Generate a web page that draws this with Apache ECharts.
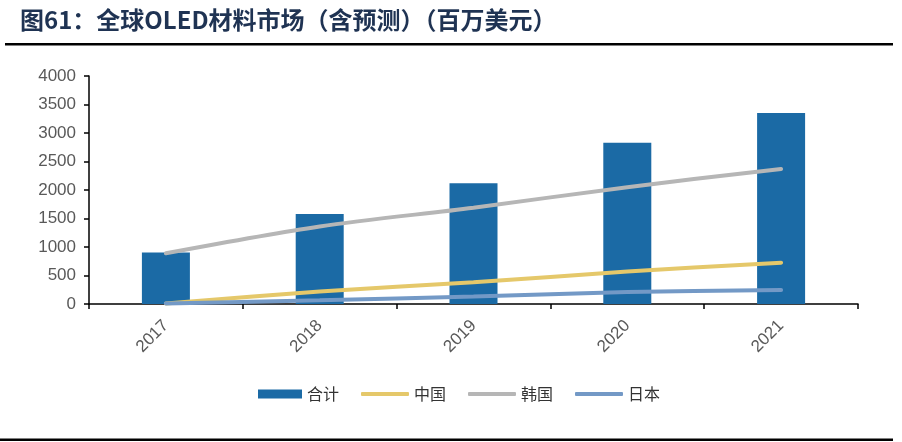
<!DOCTYPE html>
<html>
<head>
<meta charset="utf-8">
<script src="https://cdn.jsdelivr.net/npm/echarts@6/dist/echarts.min.js"></script>
<style>
html,body{margin:0;padding:0;background:#fff;}
#chart{width:902px;height:442px;}
</style>
</head>
<body>
<div id="chart"></div>
<script>
const titleText = '图61：全球OLED材料市场（含预测）（百万美元）';
const categories = ['2017', '2018', '2019', '2020', '2021'];
const totalValues = [905, 1580, 2120, 2830, 3350];
const chinaValues = [10, 220, 380, 570, 725];
const koreaValues = [890, 1360, 1690, 2050, 2370];
const japanValues = [10, 65, 130, 210, 245];
const seriesNames = ['合计', '中国', '韩国', '日本'];

const chart = echarts.init(document.getElementById('chart'), null, {renderer: 'canvas'});
const labelColor = '#595959';
const numFont = '"Liberation Sans", Arial, sans-serif';
const cjkFont = '"Noto Sans CJK SC", sans-serif';
const lineSeries = (name, data, color) => ({
  name: name,
  type: 'line',
  data: data,
  smooth: 0.3,
  symbol: 'none',
  lineStyle: {color: color, width: 4, cap: 'round'},
  itemStyle: {color: color},
  z: 3
});
const legendText = {fontFamily: cjkFont, fontSize: 16, color: '#333'};

chart.setOption({
  animation: false,
  backgroundColor: '#fff',
  graphic: [
    {type: 'text', left: 20, top: 8, style: {text: titleText, font: 'bold 24px ' + cjkFont, fill: '#1F3353'}},
    {type: 'rect', shape: {x: 5, y: 43, width: 888, height: 2.5}, style: {fill: '#000'}},
    {type: 'rect', shape: {x: 0, y: 438.5, width: 893, height: 2.5}, style: {fill: '#000'}}
  ],
  grid: {left: 89, right: 44, top: 76, bottom: 138, containLabel: false},
  legend: [
    {
      data: [seriesNames[0]],
      top: 381,
      left: 253,
      itemWidth: 44,
      itemHeight: 9,
      icon: 'rect',
      textStyle: legendText
    },
    {
      data: seriesNames.slice(1),
      top: 381,
      left: 356,
      itemWidth: 48,
      itemHeight: 4,
      itemGap: 22,
      icon: 'roundRect',
      textStyle: legendText
    }
  ],
  xAxis: {
    type: 'category',
    data: categories,
    boundaryGap: true,
    axisLine: {lineStyle: {color: '#000', width: 1.5}},
    axisTick: {show: true, alignWithLabel: false, length: 5, lineStyle: {color: '#000', width: 1.5}},
    axisLabel: {rotate: 45, color: labelColor, fontSize: 17, fontFamily: numFont, margin: 19}
  },
  yAxis: {
    type: 'value',
    min: 0,
    max: 4000,
    interval: 500,
    splitLine: {show: false},
    axisLine: {show: true, lineStyle: {color: '#000', width: 1.5}},
    axisTick: {show: true, length: 5, lineStyle: {color: '#000', width: 1.5}},
    axisLabel: {color: labelColor, fontSize: 17, fontFamily: numFont, margin: 13, formatter: v => String(v)}
  },
  series: [
    {name: '合计', type: 'bar', data: totalValues, barWidth: 48, itemStyle: {color: '#1B6AA5'}, z: 2},
    lineSeries('中国', chinaValues, '#E5C86A'),
    lineSeries('韩国', koreaValues, '#B6B6B6'),
    lineSeries('日本', japanValues, '#7399C6')
  ]
});
</script>
</body>
</html>
